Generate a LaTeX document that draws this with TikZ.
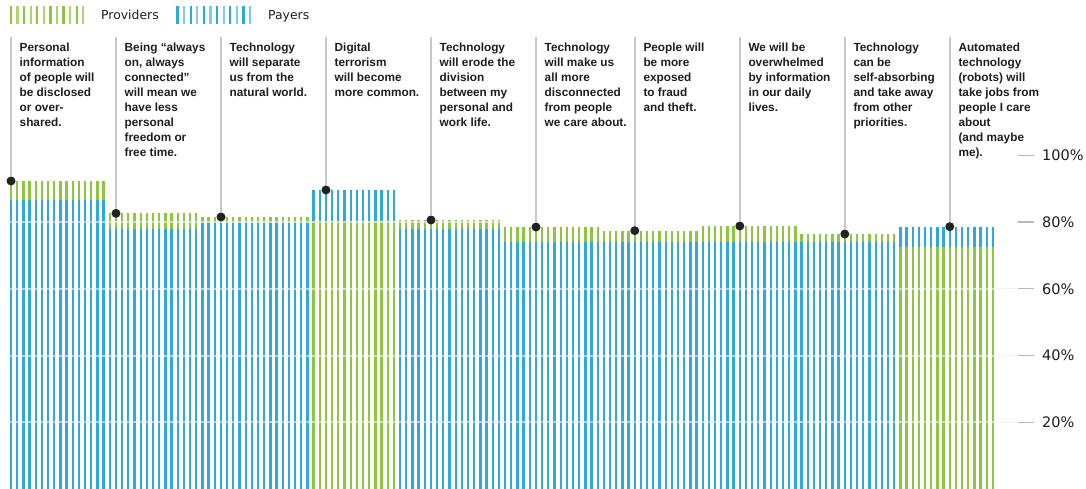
\documentclass[tikz,border=0pt]{standalone}
\usepackage{fontspec}
\setmainfont{Liberation Sans}
\newfontfamily\dejavu{DejaVu Sans}
\definecolor{pgreen}{HTML}{8DC63F}
\definecolor{pgreenlt}{HTML}{AAD56F}
\definecolor{pblue}{HTML}{2EA9DD}
\definecolor{pbluelt}{HTML}{7FCAEE}
\definecolor{dotc}{HTML}{222222}
\definecolor{leadc}{HTML}{C8C8C8}
\definecolor{textc}{HTML}{1E1E1E}
\newcommand\ypx[1]{489-3.3375*#1}
\newcommand\stripegroup[6]{%
  \foreach \k in {#1,...,#2}{%
    \pgfmathsetmacro\xx{11+6.176*\k}%
    \fill[#6] ({\xx-1.15},{\ypx{#4}}) rectangle ({\xx+1.15},{\ypx{#3}});
    \fill[#5] ({\xx-1.15},{\ypx{#3}}) rectangle ({\xx+1.15},489);
  }}
\begin{document}
\begin{tikzpicture}[x=1pt,y=-1pt,
  lbl/.style={anchor=north west,inner sep=0pt,align=left,text=textc,
    font=\bfseries\fontsize{11.8}{15}\selectfont},
  legtext/.style={anchor=base west,inner sep=0pt,text=textc,
    font=\dejavu\fontsize{12.4}{14}\selectfont},
  axlbl/.style={anchor=west,inner sep=0pt,text=textc,
    font=\dejavu\fontsize{14.5}{16}\selectfont},
  dotmark/.style={circle,fill=dotc,minimum size=9pt,inner sep=0pt},
  leader/.style={draw=leadc,line width=2pt},
  tickmark/.style={draw=gray!55,line width=1.2pt},
  grid/.style={draw=white,opacity=0.55,line width=2pt}]
\useasboundingbox (0,0) rectangle (1086,489);
\fill[white] (0,0) rectangle (1086,489);

% legend
\foreach \i in {0,...,11}{
  \pgfmathsetmacro\lx{11+6.57*\i}
  \pgfmathtruncatemacro\odd{mod(\i,2)}
  \ifnum\odd=0 \def\lc{pgreen}\else\def\lc{pgreenlt}\fi
  \fill[\lc] ({\lx-1.1},6) rectangle ({\lx+1.1},24);
  \pgfmathsetmacro\bx{177.5+6.6*\i}
  \ifnum\odd=0 \def\bc{pblue}\else\def\bc{pbluelt}\fi
  \fill[\bc] ({\bx-1.1},6) rectangle ({\bx+1.1},24);
}
\node[legtext] (legprov) at (101,19.5) {Providers};
\node[legtext] (legpay) at (268,19.5) {Payers};

% bars
\stripegroup{0}{15}{86.6}{92.3}{pblue}{pgreen}
\stripegroup{16}{30}{77.9}{82.6}{pblue}{pgreen}
\stripegroup{31}{48}{79.7}{81.5}{pblue}{pgreen}
\stripegroup{49}{62}{80.4}{89.6}{pgreen}{pblue}
\stripegroup{63}{79}{77.9}{80.6}{pblue}{pgreen}
\stripegroup{80}{95}{74.0}{78.5}{pblue}{pgreen}
\stripegroup{96}{111}{74.0}{77.4}{pblue}{pgreen}
\stripegroup{112}{127}{74.0}{78.8}{pblue}{pgreen}
\stripegroup{128}{143}{74.0}{76.4}{pblue}{pgreen}
\stripegroup{144}{159}{72.5}{78.6}{pgreen}{pblue}

% grid lines
\foreach \v in {20,40,60,80}{
  \draw[grid] (8,{\ypx{\v}}) -- (998,{\ypx{\v}});
}
\foreach \v in {20,40,60}{
  \draw[draw=gray!10,line width=1pt] (998,{\ypx{\v}}) -- (1016,{\ypx{\v}});
}

% axis
\foreach \v/\n in {100/p100,80/p80,60/p60,40/p40,20/p20}{
  \draw[tickmark] (1018,{\ypx{\v}}) -- (1034,{\ypx{\v}});
  \node[axlbl] (\n) at (1042,{\ypx{\v}}) {\v\%};
}

% dots and leader lines
\foreach \i/\xd/\v in {1/11/92.3,2/116/82.6,3/221/81.5,4/326/89.6,5/431/80.6,
   6/536/78.5,7/634.8/77.4,8/739.8/78.8,9/844.8/76.4,10/949.8/78.6}{
  \coordinate (t\i) at (\xd,37);
  \node[dotmark] (d\i) at (\xd,{\ypx{\v}}) {};
  \draw[leader] (t\i) -- (d\i);
}

% labels
\node[lbl] (l1) at (19.5,42.3) {Personal\\information\\of people will\\be disclosed\\or over-\\shared.};
\node[lbl] (l2) at (124.5,42.3) {Being “always\\on, always\\connected”\\will mean we\\have less\\personal\\freedom or\\free time.};
\node[lbl] (l3) at (229.5,42.3) {Technology\\will separate\\us from the\\natural world.};
\node[lbl] (l4) at (334.5,42.3) {Digital\\terrorism\\will become\\more common.};
\node[lbl] (l5) at (439.5,42.3) {Technology\\will erode the\\division\\between my\\personal and\\work life.};
\node[lbl] (l6) at (544.5,42.3) {Technology\\will make us\\all more\\disconnected\\from people\\we care about.};
\node[lbl] (l7) at (643.3,42.3) {People will\\be more\\exposed\\to fraud\\and theft.};
\node[lbl] (l8) at (748.3,42.3) {We will be\\overwhelmed\\by information\\in our daily\\lives.};
\node[lbl] (l9) at (853.3,42.3) {Technology\\can be\\self-absorbing\\and take away\\from other\\priorities.};
\node[lbl] (l10) at (958.3,42.3) {Automated\\technology\\(robots) will\\take jobs from\\people I care\\about\\(and maybe\\me).};
\end{tikzpicture}
\end{document}
